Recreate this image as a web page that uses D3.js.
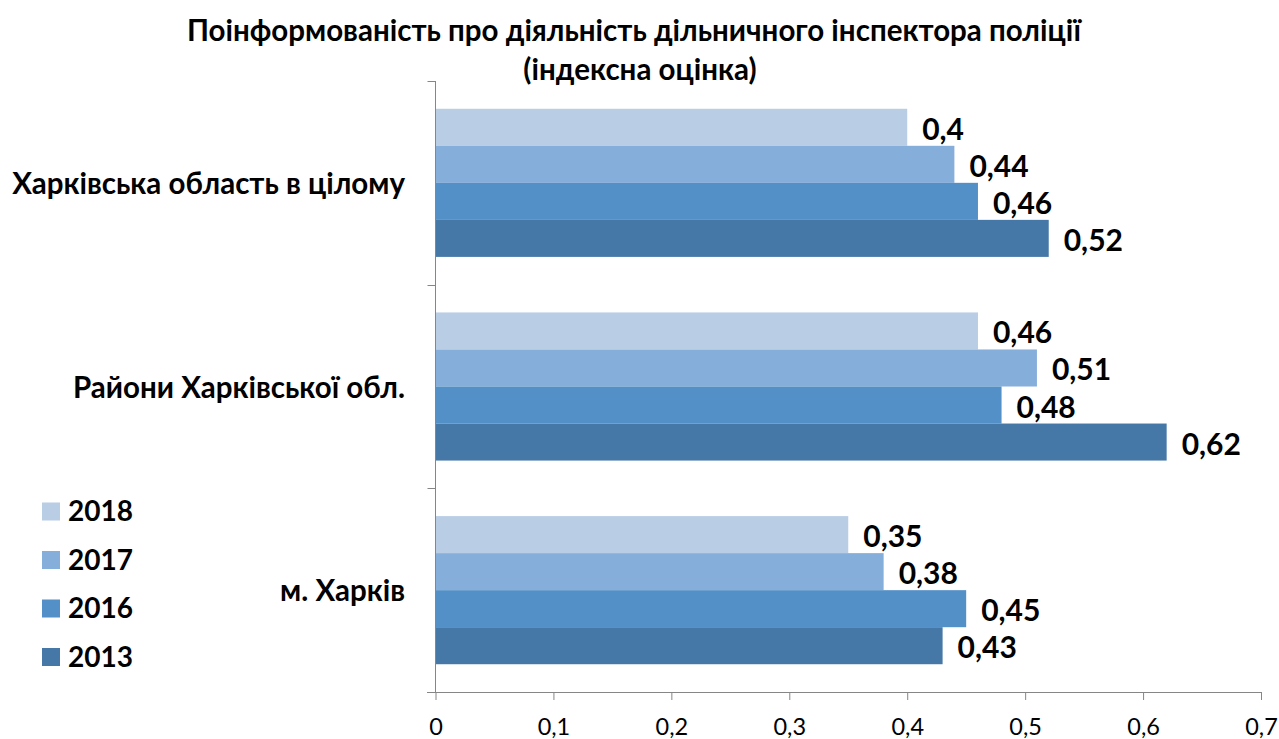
<!DOCTYPE html>
<html>
<head>
<meta charset="utf-8">
<script src="https://cdn.jsdelivr.net/npm/d3@7"></script>
<style>
  body { margin: 0; background: #fff; }
  svg { display: block; font-family: Lato, "Open Sans", sans-serif; }
</style>
</head>
<body>
<svg id="chart" width="1279" height="739"></svg>
<script>
// дані
var categories = ["Харківська область в цілому", "Райони Харківської обл.", "м. Харків"];
var years = ["2018", "2017", "2016", "2013"];
var v2018 = [0.4, 0.46, 0.35];
var v2017 = [0.44, 0.51, 0.38];
var v2016 = [0.46, 0.48, 0.45];
var v2013 = [0.52, 0.62, 0.43];
var xTicks = [0, 0.1, 0.2, 0.3, 0.4, 0.5, 0.6, 0.7];
var titleLines = ["Поінформованість про діяльність дільничного інспектора поліції", "(індексна оцінка)"];

var colors = ["#B9CDE5", "#85AEDB", "#5390C7", "#4678A7"];
var series = [v2018, v2017, v2016, v2013];

var svg = d3.select("#chart");
var fmt = function (d) { return String(d).replace(".", ","); };

// шкали
var x = d3.scaleLinear().domain([0, 0.7]).range([435.5, 1261]);
var y0 = d3.scaleBand().domain(categories).range([81, 692]).paddingInner(0).paddingOuter(0);
var y1 = d3.scaleBand().domain(years).range([0, y0.bandwidth()]).paddingInner(0).paddingOuter(0.75);

// заголовок
svg.append("g").selectAll("text").data(titleLines).enter()
    .append("text")
    .attr("x", function (d, i) { return i == 0 ? 634 : 640; })
    .attr("y", function (d, i) { return i == 0 ? 41 : 80; })
    .attr("text-anchor", "middle")
    .attr("font-weight", "bold")
    .attr("font-size", 29.5)
    .text(function (d) { return d; });

// стовпчики
var rows = [];
categories.forEach(function (c, ci) {
    years.forEach(function (yr, si) {
        rows.push({ cat: c, year: yr, s: si, v: series[si][ci] });
    });
});

var gBars = svg.append("g");
gBars.selectAll("rect").data(rows).enter()
    .append("rect")
    .attr("x", x(0))
    .attr("y", function (d) { return y0(d.cat) + y1(d.year); })
    .attr("width", function (d) { return x(d.v) - x(0); })
    .attr("height", y1.bandwidth())
    .attr("fill", function (d) { return colors[d.s]; });

gBars.selectAll("text").data(rows).enter()
    .append("text")
    .attr("x", function (d) { return x(d.v) + 15; })
    .attr("y", function (d) { return y0(d.cat) + y1(d.year) + y1.bandwidth() / 2 + 12.5; })
    .attr("font-weight", "bold")
    .attr("font-size", 30)
    .text(function (d) { return fmt(d.v); });

// вісь X
var xAxis = d3.axisBottom(x).tickValues(xTicks).tickFormat(fmt).tickSize(8).tickSizeOuter(0).tickPadding(18);
var gx = svg.append("g").attr("transform", "translate(0,692)").call(xAxis);
gx.select(".domain").remove();
gx.selectAll(".tick line").attr("stroke", "#868686");
gx.selectAll(".tick text").attr("font-size", 23.5).attr("font-family", "Lato, sans-serif").attr("fill", "#000");
svg.append("line")
    .attr("x1", 427).attr("x2", x(0.7))
    .attr("y1", 692.5).attr("y2", 692.5)
    .attr("stroke", "#868686");

// вісь категорій
var edges = categories.map(function (c) { return y0(c); }).concat([y0.range()[1]]);
svg.append("line")
    .attr("x1", x(0)).attr("x2", x(0))
    .attr("y1", y0.range()[0]).attr("y2", y0.range()[1])
    .attr("stroke", "#868686");
svg.append("g").selectAll("line").data(edges).enter()
    .append("line")
    .attr("x1", x(0) - 8).attr("x2", x(0))
    .attr("y1", function (d) { return Math.round(d) + 0.5; })
    .attr("y2", function (d) { return Math.round(d) + 0.5; })
    .attr("stroke", "#868686");

svg.append("g").selectAll("text").data(categories).enter()
    .append("text")
    .attr("x", 405)
    .attr("y", function (d) { return y0(d) + y0.bandwidth() / 2 + 11; })
    .attr("text-anchor", "end")
    .attr("font-weight", "bold")
    .attr("font-size", 29.5)
    .text(function (d) { return d; });

// легенда
var legend = svg.append("g").selectAll("g").data(years).enter()
    .append("g")
    .attr("transform", function (d, i) { return "translate(42," + (502.5 + i * 48.5) + ")"; });
legend.append("rect")
    .attr("width", 18).attr("height", 18)
    .attr("fill", function (d, i) { return colors[i]; });
legend.append("text")
    .attr("x", 26).attr("y", 18.5)
    .attr("font-weight", "bold")
    .attr("font-size", 28)
    .text(function (d) { return d; });
</script>
</body>
</html>
